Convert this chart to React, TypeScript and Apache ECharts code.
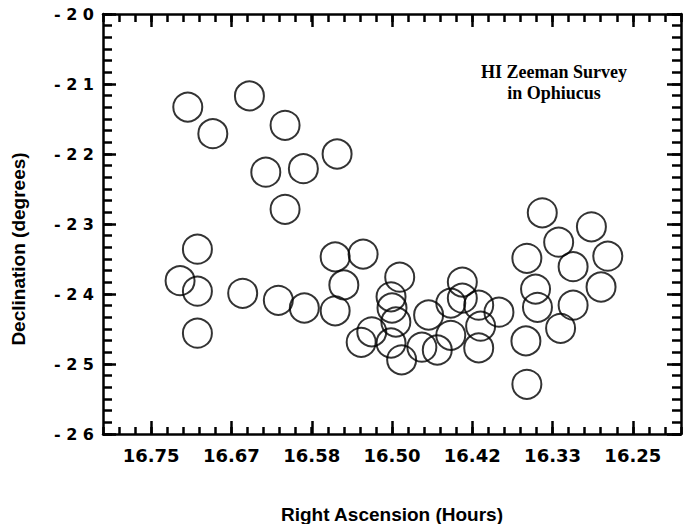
import React, { useEffect, useRef } from "react";
import * as echarts from "echarts";

// Right Ascension (hours) of each observed position
const raHours: number[] = [
  16.712, 16.686, 16.648, 16.611, 16.631, 16.592, 16.557, 16.611,
  16.702, 16.72, 16.702, 16.702, 16.655, 16.618, 16.591, 16.559, 16.53, 16.55, 16.559,
  16.492, 16.501, 16.5, 16.496, 16.521, 16.532, 16.501, 16.49, 16.469, 16.462, 16.453,
  16.439, 16.427, 16.427, 16.41, 16.389, 16.439, 16.408, 16.41,
  16.344, 16.293, 16.327, 16.36, 16.276, 16.312, 16.351, 16.283, 16.349, 16.312,
  16.325, 16.361, 16.36,
];
// Declination (degrees) of each observed position
const decDegrees: number[] = [
  -21.33, -21.71, -21.17, -21.59, -22.26, -22.21, -22.0, -22.79,
  -23.36, -23.81, -23.96, -24.56, -23.99, -24.09, -24.2, -23.47, -23.43, -23.87, -24.24,
  -23.76, -24.04, -24.2, -24.4, -24.54, -24.69, -24.7, -24.94, -24.76, -24.3, -24.8,
  -24.13, -23.83, -24.06, -24.16, -24.26, -24.59, -24.46, -24.77,
  -22.84, -23.04, -23.26, -23.49, -23.46, -23.61, -23.93, -23.9, -24.19, -24.16,
  -24.49, -24.67, -25.29,
];

// Axis tick labels
const raTickValues: number[] = [16.75, 16.6667, 16.5833, 16.5, 16.4167, 16.3333, 16.25];
const decTickValues: number[] = [-26, -25, -24, -23, -22, -21, -20];

const RA_MIN = 16.2;
const RA_MAX = 16.8;
const DEC_MIN = -26;
const DEC_MAX = -20;

const raMinor: number[] = [];
for (let i = 0; i <= 36; i++) raMinor.push(RA_MIN + i / 60);
const decMinor: number[] = [];
for (let i = 0; i <= 36; i++) decMinor.push(DEC_MIN + i / 6);

const LW = 2.5;
const black = "#000";

function xAxisDef(position: "top" | "bottom", values: number[], len: number, withLine: boolean, withLabel: boolean) {
  return {
    type: "value",
    min: RA_MIN,
    max: RA_MAX,
    inverse: true,
    position,
    splitLine: { show: false },
    axisLine: { show: withLine, onZero: false, lineStyle: { color: black, width: LW } },
    axisTick: { show: true, inside: true, length: len, customValues: values, lineStyle: { color: black, width: LW } },
    axisLabel: withLabel
      ? {
          show: true,
          customValues: raTickValues,
          formatter: (v: number) => v.toFixed(2),
          fontFamily: "DejaVu Sans",
          fontWeight: "bold",
          fontSize: 18,
          color: black,
          margin: 12,
        }
      : { show: false },
  };
}

function yAxisDef(position: "left" | "right", values: number[], len: number, withLine: boolean, withLabel: boolean) {
  return {
    type: "value",
    min: DEC_MIN,
    max: DEC_MAX,
    position,
    splitLine: { show: false },
    axisLine: { show: withLine, onZero: false, lineStyle: { color: black, width: LW } },
    axisTick: { show: true, inside: true, length: len, customValues: values, lineStyle: { color: black, width: LW } },
    axisLabel: withLabel
      ? {
          show: true,
          customValues: decTickValues,
          formatter: (v: number) => "- " + String(Math.abs(Math.round(v))).split("").join(" "),
          fontFamily: "DejaVu Sans",
          fontWeight: "bold",
          fontSize: 16,
          color: black,
          margin: 9,
        }
      : { show: false },
  };
}

export default function App() {
  const ref = useRef<HTMLDivElement>(null);
  useEffect(() => {
    if (!ref.current) return;
    const chart = echarts.init(ref.current, null, { renderer: "svg" });
    const points = raHours.map((ra, i) => [ra, decDegrees[i]]);
    chart.setOption({
      animation: false,
      backgroundColor: "#fff",
      grid: { left: 103, top: 14, right: 2, bottom: 90, containLabel: false },
      xAxis: [
        xAxisDef("bottom", raTickValues, 13, true, true),
        xAxisDef("bottom", raMinor, 7, false, false),
        xAxisDef("top", raTickValues, 13, true, false),
        xAxisDef("top", raMinor, 8, false, false),
      ],
      yAxis: [
        yAxisDef("left", decTickValues, 13, true, true),
        yAxisDef("left", decMinor, 9, false, false),
        yAxisDef("right", decTickValues, 14, true, false),
        yAxisDef("right", decMinor, 9, false, false),
      ],
      series: [
        {
          type: "scatter",
          xAxisIndex: 0,
          yAxisIndex: 0,
          data: points,
          symbol: "circle",
          symbolSize: 29,
          itemStyle: { color: "rgba(0,0,0,0)", borderColor: black, borderWidth: 2 },
          emphasis: { disabled: true },
        },
      ],
      graphic: [
        {
          type: "text",
          x: 392,
          y: 514,
          style: {
            text: "Right Ascension (Hours)",
            font: "bold 19px 'Liberation Sans', Arial, sans-serif",
            fill: black,
            align: "center",
            verticalAlign: "middle",
          },
        },
        {
          type: "text",
          x: 18,
          y: 249,
          rotation: Math.PI / 2,
          style: {
            text: "Declination (degrees)",
            font: "bold 19px 'Liberation Sans', Arial, sans-serif",
            fill: black,
            align: "center",
            verticalAlign: "middle",
          },
        },
        {
          type: "text",
          x: 554,
          y: 72,
          style: {
            text: "HI Zeeman Survey",
            font: "bold 18px 'Liberation Serif', 'Times New Roman', serif",
            fill: black,
            align: "center",
            verticalAlign: "middle",
          },
        },
        {
          type: "text",
          x: 554,
          y: 93,
          style: {
            text: "in Ophiucus",
            font: "bold 18px 'Liberation Serif', 'Times New Roman', serif",
            fill: black,
            align: "center",
            verticalAlign: "middle",
          },
        },
      ],
    });
    return () => chart.dispose();
  }, []);
  return <div ref={ref} style={{ position: "fixed", left: 0, top: 0, width: 683, height: 524 }} />;
}
